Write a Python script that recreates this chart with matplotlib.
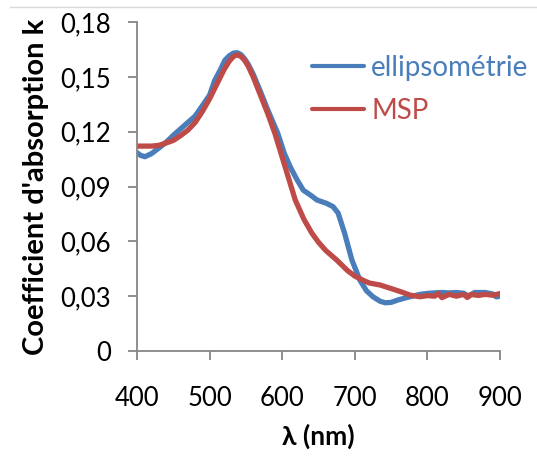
import numpy as np
import matplotlib
matplotlib.use('agg')
import matplotlib.pyplot as plt
from matplotlib.lines import Line2D
from matplotlib.ticker import FuncFormatter

# ellipsometrie curve (nm, k)
wl_ell = [400, 405, 411, 420, 430, 441, 450, 466, 480, 489, 500, 507, 515, 521, 527,
          533, 538, 543, 548, 553, 560, 570, 580, 594, 603, 611, 620, 629, 640, 648,
          661, 670, 677, 686, 696, 707, 716, 725, 735, 742, 750, 760, 776, 790, 800,
          810, 820, 830, 840, 850, 857, 865, 880, 890, 895, 900]
k_ell = [0.1085, 0.1070, 0.1063, 0.1080, 0.1110, 0.1145, 0.1180, 0.1236, 0.1285, 0.1336,
         0.1400, 0.1480, 0.1540, 0.1590, 0.1615, 0.1630, 0.1632, 0.1622, 0.1600, 0.1570,
         0.1515, 0.1420, 0.1320, 0.1190, 0.1080, 0.1008, 0.0940, 0.0880, 0.0850, 0.0826,
         0.0808, 0.0790, 0.0755, 0.0644, 0.0498, 0.0388, 0.0330, 0.0297, 0.0272, 0.0264,
         0.0266, 0.0280, 0.0297, 0.0310, 0.0315, 0.0318, 0.0320, 0.0318, 0.0320, 0.0316,
         0.0300, 0.0320, 0.0320, 0.0312, 0.0296, 0.0300]

# MSP curve
wl_msp = [400, 410, 420, 430, 440, 450, 460, 470, 480, 490, 500, 510, 520, 527, 533,
          538, 543, 548, 553, 560, 570, 580, 590, 604, 618, 630, 641, 650, 660, 675,
          690, 700, 711, 720, 735, 753, 765, 776, 790, 800, 810, 815, 820, 830, 840,
          850, 855, 860, 870, 880, 890, 900]
k_msp = [0.1121, 0.1121, 0.1121, 0.1125, 0.1138, 0.1152, 0.1178, 0.1208, 0.1250, 0.1310,
         0.1380, 0.1460, 0.1540, 0.1585, 0.1612, 0.1620, 0.1612, 0.1592, 0.1560, 0.1500,
         0.1400, 0.1300, 0.1190, 0.1008, 0.0826, 0.0720, 0.0644, 0.0595, 0.0550, 0.0498,
         0.0440, 0.0410, 0.0388, 0.0372, 0.0361, 0.0338, 0.0322, 0.0306, 0.0297, 0.0303,
         0.0300, 0.0314, 0.0292, 0.0310, 0.0300, 0.0310, 0.0293, 0.0310, 0.0304, 0.0310,
         0.0305, 0.0314]

x_ticks = [400, 500, 600, 700, 800, 900]
y_ticks = [0, 0.03, 0.06, 0.09, 0.12, 0.15, 0.18]

blue = '#4A7EBB'
red = '#BE4B48'
grey = '#868686'

plt.rcParams['font.family'] = ['Lato', 'DejaVu Sans']

fig = plt.figure(figsize=(5.37, 4.57), dpi=100)
ax = fig.add_axes([0.2551, 0.2319, 0.676, 0.72])

ax.plot(wl_ell, k_ell, color=blue, lw=3.8, solid_capstyle='round', label='ellipsométrie')
ax.plot(wl_msp, k_msp, color=red, lw=3.8, solid_capstyle='round', label='MSP')

ax.set_xlim(400, 900)
ax.set_ylim(0, 0.18)
ax.set_xticks(x_ticks)
ax.set_yticks(y_ticks)
ax.yaxis.set_major_formatter(FuncFormatter(
    lambda v, p: '0' if v == 0 else ('%.2f' % v).replace('.', ',')))

for s in ('top', 'right'):
    ax.spines[s].set_visible(False)
for s in ('left', 'bottom'):
    ax.spines[s].set_color(grey)
    ax.spines[s].set_linewidth(1.3)
ax.tick_params(axis='both', colors=grey, width=1.3, length=6.5, labelcolor='black',
               labelsize=18.5)
ax.tick_params(axis='y', pad=12)
ax.tick_params(axis='x', pad=19)

ax.set_xlabel('λ (nm)', fontsize=19, fontweight='bold', labelpad=9)
ax.set_ylabel("Coefficient d'absorption k", fontsize=21, fontweight='bold', labelpad=8)

leg = ax.legend(loc='upper left', bbox_to_anchor=(0.481, 0.90), frameon=False,
                fontsize=20, handlelength=1.9, handletextpad=0.25, labelspacing=0.62,
                labelcolor='linecolor', borderaxespad=0, borderpad=0)
for h in leg.legend_handles:
    h.set_linewidth(3.0)
    h.set_solid_capstyle('round')

# light border line at the top of the chart area
fig.add_artist(Line2D([10 / 537, 1], [1 - 7 / 457, 1 - 7 / 457],
                      transform=fig.transFigure, color='#D9D9D9', lw=1))

fig.savefig('out.png', dpi=100)
